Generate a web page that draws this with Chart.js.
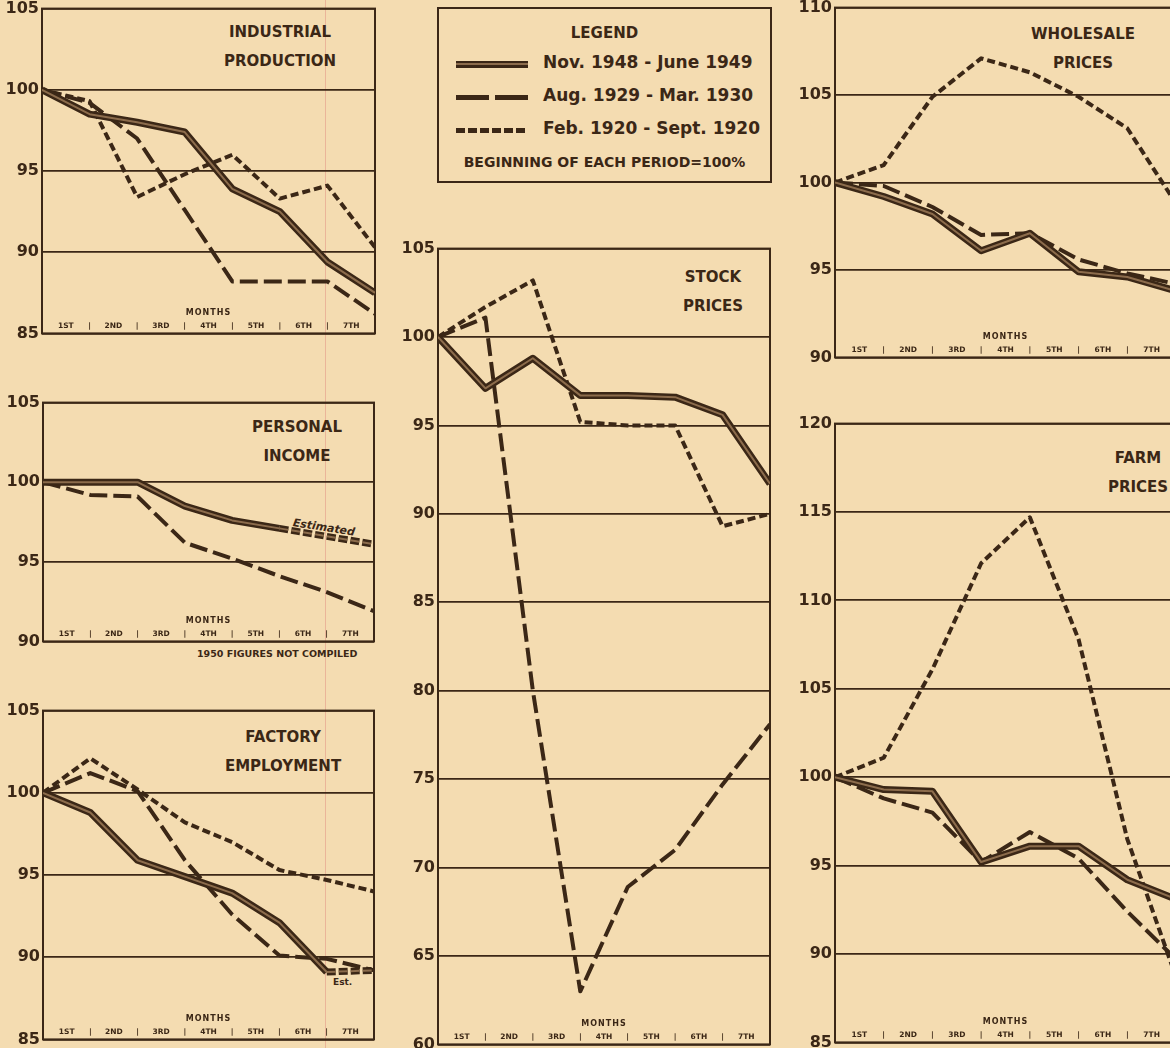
<!DOCTYPE html>
<html>
<head>
<meta charset="utf-8">
<title>Recession comparison</title>
<script src="https://cdn.jsdelivr.net/npm/chart.js@4.4.0/dist/chart.umd.min.js"></script>
<style>
  html, body { margin: 0; padding: 0; }
  body {
    width: 1170px; height: 1048px; overflow: hidden; position: relative;
    background: #f4dcb1; color: #3b2716;
    font-family: 'DejaVu Sans', sans-serif;
  }
  .panel { position: absolute; }
  .panel canvas { position: absolute; left: 0; top: 0; }
  .title {
    position: absolute; transform: translateX(-50%);
    font-weight: bold; font-size: 15px; line-height: 29px;
    text-align: center; white-space: nowrap;
  }
  .fold { position: absolute; left: 325px; top: 0; width: 1px; height: 1048px; background: rgba(214, 110, 110, 0.35); }
  #legend {
    position: absolute; left: 437px; top: 7px; width: 331px; height: 172px;
    border: 2px solid #3b2716;
  }
  #legend .head { position: absolute; left: 0; right: 0; top: 15px; text-align: center; font-weight: bold; font-size: 15px; }
  #legend .row { position: absolute; left: 104px; font-weight: bold; font-size: 17px; white-space: nowrap; }
  #legend .sample { position: absolute; left: 17px; width: 72px; }
  #legend .foot { position: absolute; left: 0; right: 0; top: 145px; text-align: center; font-weight: bold; font-size: 14px; white-space: nowrap; }
  .s-solid { height: 7px; background: linear-gradient(to bottom, #3b2716 0 2.5px, #8c6c4c 2.5px 4.5px, #3b2716 4.5px 7px); }
  .s-long { height: 5px; background: repeating-linear-gradient(to right, #3b2716 0 33px, transparent 33px 39px); }
  .s-short { height: 5px; background: repeating-linear-gradient(to right, #3b2716 0 9px, transparent 9px 12px); }
  .note { position: absolute; font-weight: bold; white-space: nowrap; }
</style>
</head>
<body>
<div class="fold"></div>

<div id="legend">
  <div class="head">LEGEND</div>
  <div class="sample s-solid" style="top:52px"></div>
  <div class="row" style="top:43px">Nov. 1948 - June 1949</div>
  <div class="sample s-long" style="top:86px"></div>
  <div class="row" style="top:76px">Aug. 1929 - Mar. 1930</div>
  <div class="sample s-short" style="top:119px"></div>
  <div class="row" style="top:109px">Feb. 1920 - Sept. 1920</div>
  <div class="foot">BEGINNING OF EACH PERIOD=100%</div>
</div>

<div class="title" style="left:280px; top:18px">INDUSTRIAL<br>PRODUCTION</div>
<div class="title" style="left:297px; top:413px">PERSONAL<br>INCOME</div>
<div class="title" style="left:283px; top:723px">FACTORY<br>EMPLOYMENT</div>
<div class="title" style="left:713px; top:263px">STOCK<br>PRICES</div>
<div class="title" style="left:1083px; top:20px">WHOLESALE<br>PRICES</div>
<div class="title" style="left:1138px; top:444px">FARM<br>PRICES</div>

<div class="note" style="left:293px; top:516px; font-size:11px; font-style:italic; transform:rotate(9deg); transform-origin:left center;">Estimated</div>
<div class="note" style="left:197px; top:648px; font-size:9.5px;">1950 FIGURES NOT COMPILED</div>
<div class="note" style="left:333px; top:977px; font-size:9px;">Est.</div>

<script>
// Recession comparison: 1948-49 vs 1929-30 vs 1920, beginning of each period = 100

var INK = '#3b2716';
var STRIPE = '#8c6c4c';

// x: start of period + end of each month
var MONTH_POINTS = [0, 1, 2, 3, 4, 5, 6, 7];
var MONTH_LABELS = ['1ST', '2ND', '3RD', '4TH', '5TH', '6TH', '7TH'];

var industrialSolid = [100, 98.5, 98.0, 97.4, 93.9, 92.5, 89.4, 87.5];
var industrialLong  = [100, 99.2, 97.0, 92.6, 88.2, 88.2, 88.2, 86.2];
var industrialShort = [100, 99.3, 93.4, 94.8, 96.0, 93.3, 94.1, 90.3];

var incomeSolid = [100, 100, 100, 98.5, 97.6, 97.1, 96.6, 96.1];
var incomeLong  = [100, 99.2, 99.1, 96.2, 95.2, 94.1, 93.1, 91.9];

var factorySolid = [100, 98.8, 95.9, 94.9, 93.9, 92.1, 89.1, 89.2];
var factoryLong  = [100, 101.2, 100.1, 95.9, 92.6, 90.1, 89.9, 89.2];
var factoryShort = [100, 102.1, 100.2, 98.2, 97.0, 95.3, 94.7, 94.0];

var stockSolid = [100, 97.1, 98.8, 96.7, 96.7, 96.6, 95.6, 91.7];
var stockLong  = [100, 101.1, 80.0, 63.0, 68.9, 71.0, 74.7, 78.1];
var stockShort = [100, 101.7, 103.2, 95.2, 95.0, 95.0, 89.3, 90.0];

var wholesaleSolid = [100, 99.2, 98.2, 96.1, 97.1, 94.9, 94.6, 93.8];
var wholesaleLong  = [100, 99.8, 98.6, 97.0, 97.1, 95.6, 94.8, 94.2];
var wholesaleShort = [100, 101.0, 104.9, 107.1, 106.3, 104.9, 103.1, 98.8];

var farmSolid = [100, 99.3, 99.2, 95.2, 96.1, 96.1, 94.2, 93.1];
var farmLong  = [100, 98.8, 98.0, 95.2, 96.9, 95.4, 92.4, 89.7];
var farmShort = [100, 101.1, 106.1, 112.1, 114.7, 107.8, 96.5, 88.7];

var AXIS_W = 42;
var PAD_T = 12, PAD_R = 8, PAD_B = 12;

var framePlugin = {
  id: 'frame',
  beforeDatasetsDraw: function(chart) {
    var a = chart.chartArea, ctx = chart.ctx;
    ctx.save();
    ctx.strokeStyle = INK;
    ctx.lineWidth = 2;
    ctx.strokeRect(a.left, a.top, a.right - a.left, a.bottom - a.top);
    ctx.restore();
  }
};

var monthsPlugin = {
  id: 'months',
  afterDatasetsDraw: function(chart) {
    var ctx = chart.ctx, x = chart.scales.x, a = chart.chartArea;
    ctx.save();
    ctx.fillStyle = INK;
    ctx.textAlign = 'center';
    ctx.textBaseline = 'middle';
    ctx.font = 'bold 8px "DejaVu Sans", sans-serif';
    ctx.letterSpacing = '1px';
    ctx.fillText('MONTHS', x.getPixelForValue(3.5), a.bottom - 20);
    ctx.letterSpacing = '0px';
    ctx.font = 'bold 7.5px "DejaVu Sans", sans-serif';
    for (var i = 0; i < MONTH_LABELS.length; i++) {
      ctx.fillText(MONTH_LABELS[i], x.getPixelForValue(i + 0.5), a.bottom - 7);
      if (i > 0) ctx.fillText('|', x.getPixelForValue(i), a.bottom - 7);
    }
    ctx.restore();
  }
};

function estDash(from) {
  return function(c) { return (from != null && c.p0DataIndex >= from) ? [9, 3] : undefined; };
}

function buildSets(solid, long, short, estFrom) {
  var base = { pointRadius: 0, tension: 0, fill: false, borderCapStyle: 'butt', borderJoinStyle: 'round' };
  var sets = [];
  // dataset 0 is painted last, so the light stripe sits on the heavy line
  sets.push(Object.assign({ label: 'Nov. 1948 - June 1949', data: solid, borderColor: STRIPE, borderWidth: 2,
    segment: { borderDash: estDash(estFrom) } }, base));
  sets.push(Object.assign({ label: 'Nov. 1948 - June 1949', data: solid, borderColor: INK, borderWidth: 7,
    segment: { borderDash: estDash(estFrom) } }, base));
  if (long) sets.push(Object.assign({ label: 'Aug. 1929 - Mar. 1930', data: long, borderColor: INK, borderWidth: 4,
    borderDash: [18, 6] }, base));
  if (short) sets.push(Object.assign({ label: 'Feb. 1920 - Sept. 1920', data: short, borderColor: INK, borderWidth: 4,
    borderDash: [8, 4] }, base));
  return sets;
}

function makePanel(box, yMin, yMax, datasets) {
  var w = box.r - box.l + AXIS_W + PAD_R;
  var h = box.b - box.t + PAD_T + PAD_B;
  var wrap = document.createElement('div');
  wrap.className = 'panel';
  wrap.style.left = (box.l - AXIS_W) + 'px';
  wrap.style.top = (box.t - PAD_T) + 'px';
  wrap.style.width = w + 'px';
  wrap.style.height = h + 'px';
  var canvas = document.createElement('canvas');
  canvas.width = w;
  canvas.height = h;
  wrap.appendChild(canvas);
  document.body.appendChild(wrap);

  return new Chart(canvas, {
    type: 'line',
    data: { labels: MONTH_POINTS, datasets: datasets },
    options: {
      responsive: false,
      animation: false,
      events: [],
      layout: { padding: { left: 0, top: PAD_T, right: PAD_R, bottom: PAD_B } },
      scales: {
        x: { type: 'linear', min: 0, max: 7, display: false },
        y: {
          min: yMin, max: yMax,
          afterFit: function(scale) { scale.width = AXIS_W; },
          ticks: { stepSize: 5, padding: 3, color: INK, font: { family: 'DejaVu Sans', weight: 'bold', size: 16 } },
          grid: { color: INK, lineWidth: 1.8, drawTicks: false },
          border: { display: false }
        }
      },
      plugins: { legend: { display: false }, tooltip: { enabled: false } }
    },
    plugins: [framePlugin, monthsPlugin]
  });
}

makePanel({ l: 42, r: 375, t: 8, b: 334 }, 85, 105, buildSets(industrialSolid, industrialLong, industrialShort));
makePanel({ l: 43, r: 374, t: 402, b: 642 }, 90, 105, buildSets(incomeSolid, incomeLong, null, 5));
makePanel({ l: 43, r: 374, t: 710, b: 1040 }, 85, 105, buildSets(factorySolid, factoryLong, factoryShort, 6));
makePanel({ l: 438, r: 770, t: 248, b: 1045 }, 60, 105, buildSets(stockSolid, stockLong, stockShort));
makePanel({ l: 835, r: 1176, t: 7, b: 358 }, 90, 110, buildSets(wholesaleSolid, wholesaleLong, wholesaleShort));
makePanel({ l: 835, r: 1176, t: 423, b: 1043 }, 85, 120, buildSets(farmSolid, farmLong, farmShort));
</script>
</body>
</html>
